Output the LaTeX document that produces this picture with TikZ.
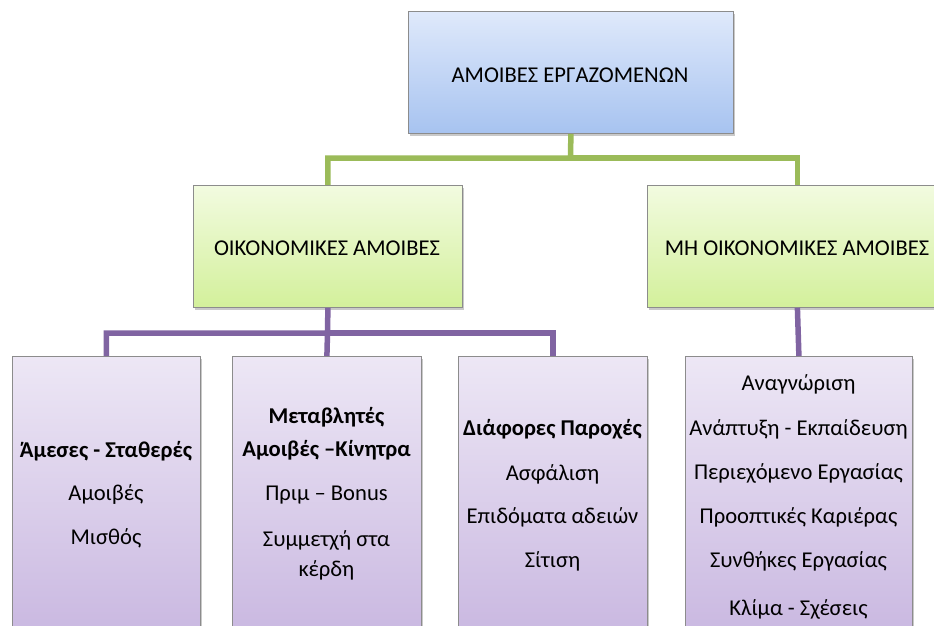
\documentclass[tikz,border=0pt]{standalone}
\usepackage{fontspec}
\setmainfont{Carlito}
\usetikzlibrary{shadows}
\definecolor{gline}{HTML}{9BBB59}
\definecolor{pline}{HTML}{8064A2}
\definecolor{btop}{HTML}{DFE9FB}
\definecolor{bbot}{HTML}{A7C3F0}
\definecolor{gtop}{HTML}{F2FBE0}
\definecolor{gbot}{HTML}{D3F09B}
\definecolor{ptop}{HTML}{EDE7F5}
\definecolor{pbot}{HTML}{C8B6E0}
\definecolor{bord}{HTML}{8C8C8C}
\tikzset{
  boxbase/.style={draw=bord, line width=0.8pt, inner sep=0pt, anchor=north west,
    drop shadow={shadow xshift=2pt, shadow yshift=-3pt, opacity=0.35, fill=black!60}},
  bluebox/.style={boxbase, top color=btop, bottom color=bbot},
  greenbox/.style={boxbase, top color=gtop, bottom color=gbot},
  purplebox/.style={boxbase, top color=ptop, bottom color=pbot},
  gconn/.style={draw=gline, line width=5.5pt},
  pconn/.style={draw=pline, line width=5.5pt},
  txt/.style={anchor=base, inner sep=0pt, font=\fontsize{22.6}{27}\selectfont},
  btxt/.style={txt, font=\fontsize{22.6}{27}\selectfont\bfseries},
}
\begin{document}
\begin{tikzpicture}[x=1pt,y=-1pt]
\useasboundingbox (0,0) rectangle (934,626);
\fill[white] (0,0) rectangle (934,626);
\clip (0,0) rectangle (934,626);
% boxes
\node[bluebox, minimum width=325pt, minimum height=122pt] (top) at (408,11) {};
\node[greenbox, minimum width=269pt, minimum height=122pt] (ok) at (193,185) {};
\node[greenbox, minimum width=300pt, minimum height=122pt] (mok) at (647,185) {};
\node[purplebox, minimum width=188pt, minimum height=290pt] (b1) at (12,356) {};
\node[purplebox, minimum width=189pt, minimum height=290pt] (b2) at (232,356) {};
\node[purplebox, minimum width=189pt, minimum height=290pt] (b3) at (458,356) {};
\node[purplebox, minimum width=227pt, minimum height=290pt] (b4) at (685,356) {};
% connectors
\coordinate (gbus) at (570.5,158);
\coordinate (pbus) at (327.5,333);
\draw[gconn] (top.south) -- (gbus) -| (ok.north);
\draw[gconn] (gbus) -| (mok.north);
\draw[pconn] (ok.south) -- (pbus) -| (b1.north);
\draw[pconn] (pbus) -| (b3.north);
\draw[pconn] (pbus) -- (b2.north);
\draw[pconn] (mok.south) -- (b4.north);
% texts
\node[txt] (ttop) at (570,82) {ΑΜΟΙΒΕΣ ΕΡΓΑΖΟΜΕΝΩΝ};
\node[txt] (tok) at (327,255) {ΟΙΚΟΝΟΜΙΚΕΣ ΑΜΟΙΒΕΣ};
\node[txt] (tmok) at (797,255) {ΜΗ ΟΙΚΟΝΟΜΙΚΕΣ ΑΜΟΙΒΕΣ};
% box 1
\node[btxt] (t1a) at (106,457) {Άμεσες - Σταθερές};
\node[txt] (t1b) at (106,500) {Αμοιβές};
\node[txt] (t1c) at (106,544) {Μισθός};
% box 2
\node[btxt] (t2a) at (326.5,423) {Μεταβλητές};
\node[btxt] (t2b) at (326.5,456) {Αμοιβές –Κίνητρα};
\node[txt] (t2c) at (326.5,500) {Πριμ – Bonus};
\node[txt] (t2d) at (326.5,546) {Συμμετχή στα};
\node[txt] (t2e) at (326.5,576) {κέρδη};
% box 3
\node[btxt] (t3a) at (552.5,435) {Διάφορες Παροχές};
\node[txt] (t3b) at (552.5,480) {Ασφάλιση};
\node[txt] (t3c) at (552.5,523) {Επιδόματα αδειών};
\node[txt] (t3d) at (552.5,567) {Σίτιση};
% box 4
\node[txt] (t4a) at (798.5,390) {Αναγνώριση};
\node[txt] (t4b) at (798.5,435) {Ανάπτυξη - Εκπαίδευση};
\node[txt] (t4c) at (798.5,479) {Περιεχόμενο Εργασίας};
\node[txt] (t4d) at (798.5,523) {Προοπτικές Καριέρας};
\node[txt] (t4e) at (798.5,567) {Συνθήκες Εργασίας};
\node[txt] (t4f) at (798.5,615) {Κλίμα - Σχέσεις};
\end{tikzpicture}
\end{document}
